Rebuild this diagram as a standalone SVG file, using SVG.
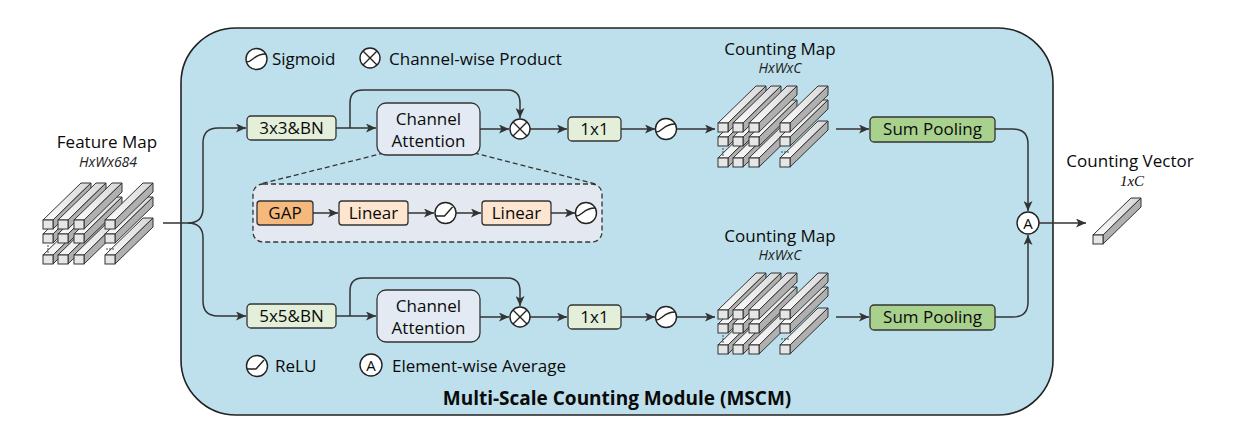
<svg xmlns="http://www.w3.org/2000/svg" xmlns:xlink="http://www.w3.org/1999/xlink" width="1238" height="442" viewBox="0 0 1238 442">
<style>
text{font-family:"Open Sans","Noto Sans","Liberation Sans",sans-serif;fill:#0a0a0a;}
.lbl{font-size:17px;text-anchor:middle;}
.leg{font-size:17px;}
.dim{font-size:14px;font-style:italic;text-anchor:middle;fill:#222;}
.title{font-size:19px;font-weight:bold;text-anchor:middle;}
.conv{fill:#e3efd9;stroke:#333;stroke-width:1.3;}
.sum{fill:#a9d18e;stroke:#333;stroke-width:1.3;}
.ca{fill:#e4eaf4;stroke:#333;stroke-width:1.3;}
.gap{fill:#f5b97e;stroke:#333;stroke-width:1.3;}
.lin{fill:#fde5cf;stroke:#333;stroke-width:1.3;}
.op{fill:#fff;stroke:#222;stroke-width:1.4;}
.glyph{fill:none;stroke:#222;stroke-width:1.4;}
.wire{fill:none;stroke:#333;stroke-width:1.5;}
.arr{marker-end:url(#ah);}
.dash{fill:none;stroke:#333;stroke-width:1.3;stroke-dasharray:5 3;}
.bf{fill:#e6e6e6;stroke:#333;stroke-width:1;}
.bt{fill:url(#gt);stroke:#333;stroke-width:1;}
.br{fill:#b0b0b0;stroke:#333;stroke-width:1;}
.dot{fill:#333;}
</style>
<defs>
<linearGradient id="gt" x1="0" y1="1" x2="1" y2="0">
<stop offset="0" stop-color="#fafafa"/>
<stop offset="1" stop-color="#d8d8d8"/>
</linearGradient>
<marker id="ah" markerUnits="userSpaceOnUse" markerWidth="10" markerHeight="9" refX="10" refY="4.5" orient="auto">
<path d="M0,0 L10,4.5 L0,9 L2.5,4.5 z" fill="#333"/>
</marker>
<g id="bar">
<polygon class="bt" points="0,0 38,-37 48,-37 10,0"/>
<polygon class="br" points="10,0 48,-37 48,-28 10,9"/>
<rect class="bf" x="0" y="0" width="10" height="9"/>
</g>
<g id="stack">
<use xlink:href="#bar" x="0" y="35"/>
<use xlink:href="#bar" x="15" y="35"/>
<use xlink:href="#bar" x="31" y="35"/>
<use xlink:href="#bar" x="62" y="35"/>
<use xlink:href="#bar" x="0" y="14"/>
<use xlink:href="#bar" x="15" y="14"/>
<use xlink:href="#bar" x="31" y="14"/>
<use xlink:href="#bar" x="62" y="14"/>
<use xlink:href="#bar" x="0" y="0"/>
<use xlink:href="#bar" x="15" y="0"/>
<use xlink:href="#bar" x="31" y="0"/>
<use xlink:href="#bar" x="62" y="0"/>
<circle class="dot" cx="5" cy="26" r="0.8"/>
<circle class="dot" cx="5" cy="29" r="0.8"/>
<circle class="dot" cx="5" cy="32" r="0.8"/>
<circle class="dot" cx="64" cy="29" r="0.8"/>
<circle class="dot" cx="67" cy="29" r="0.8"/>
<circle class="dot" cx="70" cy="29" r="0.8"/>
</g>
<g id="sig">
<circle class="op" r="10.5"/>
<path class="glyph" d="M-10,3 C-3,3 -3,-5 9,-5"/>
</g>
<g id="relu">
<circle class="op" r="10.5"/>
<path class="glyph" d="M-10,3 H-1 L7,-6"/>
</g>
<g id="prod">
<circle class="op" r="10"/>
<path class="glyph" d="M-7,-7 L7,7 M-7,7 L7,-7"/>
</g>
<g id="avg">
<circle class="op" r="11"/>
<text x="0" y="5.5" style="font-size:15px;text-anchor:middle">A</text>
</g>
</defs>

<g id="module">
<rect x="181" y="28" width="872" height="387" rx="55" ry="55" fill="#bee0ec" stroke="#222" stroke-width="1.6"/>
<text class="title" x="617" y="405">Multi-Scale Counting Module (MSCM)</text>
</g>

<g id="legend">
<use xlink:href="#sig" x="256.5" y="59"/>
<text class="leg" x="272" y="65">Sigmoid</text>
<use xlink:href="#prod" x="370" y="58"/>
<text class="leg" x="389" y="65">Channel-wise Product</text>
<use xlink:href="#relu" x="257" y="366"/>
<text class="leg" x="275" y="372">ReLU</text>
<use xlink:href="#avg" x="371" y="365"/>
<text class="leg" x="392" y="372">Element-wise Average</text>
</g>

<g id="ca-detail-frame">
<rect x="253" y="184" width="349" height="58" rx="10" fill="#e4e8f1" stroke="#333" stroke-width="1.3" stroke-dasharray="5 3"/>
</g>

<g id="feature-map">
<text class="lbl" x="107" y="148">Feature Map</text>
<text class="dim" x="108" y="167">HxWx684</text>
<use xlink:href="#stack" x="43" y="220"/>
</g>

<g id="connectors">
<path class="wire" d="M163,223 H188 Q203,223 203,208 V143 Q203,128 218,128 H246" marker-end="url(#ah)"/>
<path class="wire" d="M188,223 Q203,223 203,238 V301 Q203,316 218,316 H246" marker-end="url(#ah)"/>
<path class="wire arr" d="M336,128 H376"/>
<path class="wire arr" d="M350,128 V103 Q350,90 363,90 H507 Q520,90 520,103 V118"/>
<path class="wire arr" d="M480,129 H509"/>
<path class="wire arr" d="M530,129 H567"/>
<path class="wire arr" d="M621,129 H655"/>
<path class="wire arr" d="M677,129 H715"/>
<path class="wire arr" d="M836,129 H869"/>
<path class="wire arr" d="M995,129 H1013 Q1028,129 1028,144 V211"/>
<path class="wire arr" d="M336,316 H376"/>
<path class="wire arr" d="M350,316 V291 Q350,278 363,278 H507 Q520,278 520,291 V306"/>
<path class="wire arr" d="M480,317 H509"/>
<path class="wire arr" d="M530,317 H567"/>
<path class="wire arr" d="M621,317 H655"/>
<path class="wire arr" d="M677,317 H715"/>
<path class="wire arr" d="M836,317 H869"/>
<path class="wire arr" d="M995,317 H1013 Q1028,317 1028,302 V235"/>
<path class="wire arr" d="M1039,223 H1086"/>
<path class="dash" d="M384,153 L260,184"/>
<path class="dash" d="M474,153 L596,184"/>
<path class="wire arr" d="M313,213 H338"/>
<path class="wire arr" d="M408,213 H434"/>
<path class="wire arr" d="M456,213 H481"/>
<path class="wire arr" d="M551,213 H575"/>
</g>

<g id="conv3">
<rect class="conv" x="247" y="116" width="89" height="24" rx="4"/>
<text class="lbl" x="291.5" y="134">3x3&amp;BN</text>
</g>
<g id="ca-top">
<rect class="ca" x="377" y="103" width="103" height="52" rx="9"/>
<text class="lbl" x="428.5" y="125">Channel</text>
<text class="lbl" x="428.5" y="147">Attention</text>
</g>
<g id="prod-top"><use xlink:href="#prod" x="520" y="129"/></g>
<g id="conv1-top">
<rect class="conv" x="568" y="117" width="53" height="24" rx="4"/>
<text class="lbl" x="594.5" y="135">1x1</text>
</g>
<g id="sig-top"><use xlink:href="#sig" x="666" y="129"/></g>
<g id="cmap-top">
<text class="lbl" x="780" y="55">Counting Map</text>
<text class="dim" x="780" y="73">HxWxC</text>
<use xlink:href="#stack" x="718" y="123"/>
</g>
<g id="sum-top">
<rect class="sum" x="870" y="117" width="125" height="25" rx="4"/>
<text class="lbl" x="932.5" y="135">Sum Pooling</text>
</g>

<g id="ca-detail">
<rect class="gap" x="257" y="201" width="56" height="24" rx="3"/>
<text class="lbl" x="285" y="219">GAP</text>
<rect class="lin" x="339" y="201" width="69" height="24" rx="3"/>
<text class="lbl" x="373.5" y="219">Linear</text>
<use xlink:href="#relu" x="445.5" y="213"/>
<rect class="lin" x="482" y="201" width="69" height="24" rx="3"/>
<text class="lbl" x="516.5" y="219">Linear</text>
<use xlink:href="#sig" x="586" y="213"/>
</g>

<g id="conv5">
<rect class="conv" x="247" y="304" width="89" height="24" rx="4"/>
<text class="lbl" x="291.5" y="322">5x5&amp;BN</text>
</g>
<g id="ca-bot">
<rect class="ca" x="377" y="290" width="103" height="52" rx="9"/>
<text class="lbl" x="428.5" y="312">Channel</text>
<text class="lbl" x="428.5" y="334">Attention</text>
</g>
<g id="prod-bot"><use xlink:href="#prod" x="520" y="317"/></g>
<g id="conv1-bot">
<rect class="conv" x="568" y="305" width="53" height="24" rx="4"/>
<text class="lbl" x="594.5" y="323">1x1</text>
</g>
<g id="sig-bot"><use xlink:href="#sig" x="666" y="317"/></g>
<g id="cmap-bot">
<text class="lbl" x="780" y="242">Counting Map</text>
<text class="dim" x="780" y="260">HxWxC</text>
<use xlink:href="#stack" x="718" y="310"/>
</g>
<g id="sum-bot">
<rect class="sum" x="870" y="305" width="125" height="25" rx="4"/>
<text class="lbl" x="932.5" y="323">Sum Pooling</text>
</g>

<g id="avg-node"><use xlink:href="#avg" x="1028" y="223"/></g>

<g id="counting-vector">
<text class="lbl" x="1130" y="167">Counting Vector</text>
<text x="1132" y="186" style="font-family:'Liberation Serif',serif;font-style:italic;font-size:15px;text-anchor:middle">1xC</text>
<use xlink:href="#bar" x="1093" y="235"/>
</g>
</svg>
